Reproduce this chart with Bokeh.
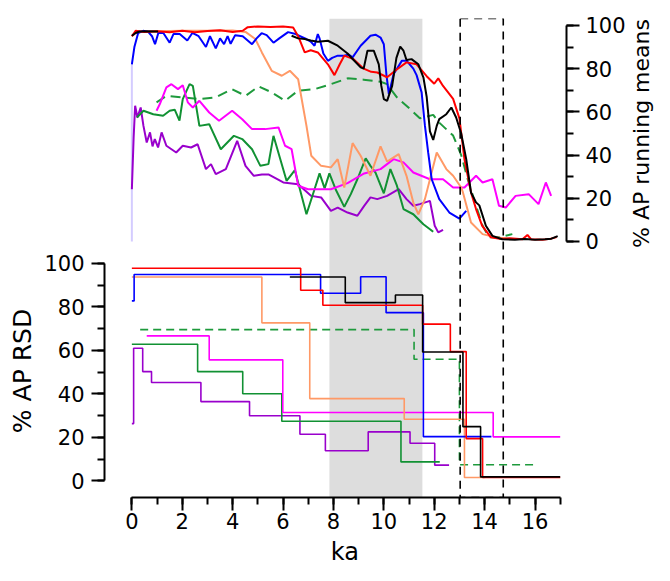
import math
from bokeh.plotting import figure
from bokeh.models import Range1d, LinearAxis, SingleIntervalTicker, BoxAnnotation
from bokeh.layouts import row, column
from bokeh.core.properties import value
from bokeh.embed import file_html
from bokeh.resources import INLINE

nan = float("nan")

# ---------------- top panel: % AP running means ----------------
blue_x = [0, 0.1, 0.25, 0.45, 0.65, 0.8, 0.92, 1.05, 1.25, 1.5, 1.65, 1.9, 2.2, 2.4, 2.65, 2.94, 3.1, 3.33, 3.5, 3.66, 3.8, 3.92, 4.1, 4.4, 4.77, 4.95, 5.15, 5.35, 5.62, 5.85, 6.2, 6.5, 6.92, 7.1, 7.25, 7.38, 7.45, 7.6, 7.78, 7.95, 8.17, 8.43, 8.6, 8.76, 9.08, 9.47, 9.67, 9.87, 10.0, 10.1, 10.2, 10.39, 10.72, 10.9, 11.17, 11.3, 11.5, 11.63, 11.76, 11.9, 12.2, 12.6, 13.0, 13.27]
blue_y = [82, 90, 96.5, 97.5, 97, 95, 91.3, 96.5, 96.5, 92, 96, 96, 93, 96.5, 95, 90, 95, 89.4, 94, 91.3, 95, 91.5, 95.5, 95, 91.3, 94, 96.4, 95.5, 92, 94, 96.9, 96, 93.7, 92.5, 90.6, 96, 94, 87, 83.6, 85, 86, 86, 86.5, 85.2, 90.6, 95.2, 95.7, 94.4, 91.3, 77.5, 68.2, 77.5, 83.7, 83.7, 80, 77, 69, 53.7, 41.2, 28.8, 19.6, 13.4, 10.6, 14.2]

red_x = [0, 0.15, 0.5, 1.0, 1.5, 2.0, 2.5, 3.0, 3.5, 4.0, 4.4, 4.6, 5.0, 5.5, 6.0, 6.4, 6.6, 6.86, 7.1, 7.38, 7.78, 8.04, 8.25, 8.43, 8.8, 9.2, 9.5, 9.74, 10.13, 10.5, 10.9, 11.3, 11.7, 12.0, 12.16, 12.35, 12.75, 13.0, 13.2, 13.46, 13.66, 13.9, 14.25, 14.6, 15.0, 15.5, 15.7, 15.85, 16.3, 16.6, 16.86]
red_y = [95, 97.5, 97, 97.3, 96.8, 97.5, 96.8, 97.4, 97.8, 97, 97.5, 99.2, 99.5, 99.3, 99.5, 99, 95, 87.5, 88.5, 87.5, 82, 77, 82, 86, 84.4, 80, 78.5, 78.2, 76, 79.5, 82.9, 82, 76.5, 73, 75.5, 72, 66, 57, 38, 22.7, 15, 7.3, 1.9, 1.2, 1.5, 1, 3, 1, 0.8, 1.2, 2]

black_x = [0, 0.15, 0.3, 0.6, 1.04, nan, 6.34, 6.6, 6.86, 7.1, 7.38, 7.78, 8.17, 8.56, 8.8, 9.08, 9.2, 9.35, 9.6, 9.8, 9.9, 10.0, 10.13, 10.33, 10.5, 10.65, 10.78, 10.9, 11.1, 11.37, 11.57, 11.7, 11.83, 11.96, 12.1, 12.2, 12.48, 12.68, 12.87, 13.07, 13.27, 13.46, 13.66, 13.79, 14.05, 14.31, 14.7, 15.2, 15.6, 16.0, 16.4, 16.65, 16.9]
black_y = [95.2, 96.5, 97.2, 97.3, 97.2, nan, 95.2, 94, 93.7, 93, 92.4, 92.9, 90.6, 87, 84, 80.6, 80, 88.3, 88.3, 82, 72, 65.9, 65.1, 72, 85, 90.2, 88.3, 84, 84.4, 82, 76, 67, 51, 47, 53.5, 56.6, 58.9, 62, 57.4, 50, 38.1, 22.7, 18.1, 16.7, 7.3, 2.6, 1, 0.8, 1.2, 0.8, 1, 1.3, 2.5]

salmon_x = [0, 0.2, 1, 2, 3, 4, 4.51, 4.9, 5.16, 5.55, 5.95, 6.27, 6.6, 6.93, 7.12, 7.51, 7.9, 8.17, 8.43, 8.76, 9.08, 9.47, 9.87, 10.13, 10.59, 10.9, 11.17, 11.37, 11.63, 12.1, 12.48, 12.75, 13.07, 13.14, 13.46, 13.92, 14.44, 15.0]
salmon_y = [95, 97, 97.3, 97.5, 97.5, 97.6, 97, 93.7, 87.5, 79, 76.7, 79, 75.1, 53.5, 39.7, 35, 34.3, 38.1, 25, 45.5, 39.7, 30.4, 44, 37, 40.4, 30.4, 18, 12.6, 19.6, 41.2, 33.5, 30.4, 25, 22.7, 8.8, 3.4, 1.9, 1.2]

gdash_x = [0.98, 1.37, 2.02, 2.68, 3.33, 3.98, 4.51, 5.03, 5.55, 6.08, 6.6, 7.25, 7.9, 8.56, 9.2, 9.87, 10.13, 10.52, 11.04, 11.43, 11.96, 12.2, 12.75, 13.07, 13.33, 13.66, 13.92, 14.18, 14.57, 15.1]
gdash_y = [64.4, 67.4, 66.7, 65.9, 66.7, 70.5, 67.4, 71.8, 69, 65.1, 69.8, 70.5, 72.8, 75.5, 74.9, 73.9, 72.8, 66.7, 61.3, 57, 58.6, 55, 49, 40, 28.8, 16.5, 7.3, 1.9, 2, 3.4]

magenta_x = [0.98, 1.11, 1.37, 1.57, 1.83, 2.02, 2.22, 2.42, 2.68, 3.07, 3.46, 3.98, 4.38, 4.77, 5.29, 5.82, 6.08, 6.34, 6.6, 6.99, 7.9, 8.56, 9.22, 9.87, 10.39, 10.78, 11.17, 11.83, 12.35, 12.75, 13.2, 13.66, 13.92, 14.31, 14.57, 14.84, 15.23, 15.75, 16.14, 16.43, 16.64]
magenta_y = [60.5, 63.6, 71.3, 72.8, 70.5, 72.3, 64.4, 62, 65.1, 59.7, 55.9, 60.5, 56.6, 52, 52, 52.8, 44.3, 42.7, 25.8, 24.2, 24.2, 27, 31.5, 33.5, 38.1, 36.6, 31.9, 28.8, 28.8, 25, 25, 30.4, 27.3, 28.8, 16.5, 15.7, 21.1, 21.9, 17.3, 27.3, 21.1]

green_x = [0.2, 0.46, 0.85, 1.24, 1.5, 1.7, 1.89, 2.02, 2.29, 2.42, 2.68, 3.07, 3.53, 4.05, 4.38, 4.77, 5.1, 5.42, 5.62, 6.14, 6.47, 6.93, 7.25, 7.45, 7.65, 7.84, 8.1, 8.43, 8.69, 8.95, 9.28, 9.47, 9.67, 10.0, 10.26, 10.52, 10.78, 11.17, 11.57, 11.96]
green_y = [57.4, 60.5, 58.9, 58.2, 60.5, 61, 55.9, 65.9, 72.8, 72, 53.5, 54.3, 42.7, 48.9, 47.4, 42.7, 35, 35.8, 48.9, 28.1, 33, 12.6, 24.2, 31.5, 24.6, 31.5, 23.8, 16, 21.9, 28.8, 38.5, 35, 31.9, 22.3, 33.5, 25.8, 15, 12.6, 8, 4.5]

purple_x = [0, 0.07, 0.13, 0.22, 0.35, 0.46, 0.59, 0.72, 0.82, 0.91, 1.04, 1.18, 1.37, 1.76, 2.02, 2.35, 2.61, 2.94, 3.14, 3.33, 3.73, 4.18, 4.51, 4.84, 5.16, 5.42, 6.01, 6.6, 7.12, 7.51, 7.9, 8.17, 8.56, 8.95, 9.22, 9.47, 9.74, 10.13, 10.59, 10.9, 11.17, 11.43, 11.83, 12.02, 12.16, 12.35]
purple_y = [24.2, 48, 62.8, 57.4, 62, 53.5, 45.8, 50.5, 44, 47.4, 43.5, 50.5, 44.3, 41.2, 44.3, 43.5, 45, 33.5, 35.8, 31.2, 33.5, 46.6, 35, 30.4, 31, 31, 27.3, 26.5, 21.1, 20.4, 14.2, 15.7, 13.4, 11.9, 16.5, 20.4, 19.6, 21.1, 24.2, 19.6, 16.5, 17.3, 18.8, 7.3, 4.2, 5.4]

lav_x = [0, 0]
lav_y = [0, 82]

# ---------------- bottom panel: % AP RSD (steps) ----------------
rsd_red_x = [0, 6.7, 7.58, 11.54, 12.64, 13.27, 13.92]
rsd_red_y = [97.7, 87.6, 80.7, 72, 59.4, 19.4, 1.5]
rsd_red_end = 17.0
rsd_blue_x = [0, 0.09, 7.49, 9.08, 10.09, 11.57]
rsd_blue_y = [82.7, 94.8, 86.2, 93.8, 77.3, 20.3]
rsd_blue_end = 14.27
rsd_black_x = [6.27, 8.47, 10.46, 11.54, 13.14, 13.84]
rsd_black_y = [93.7, 81.9, 85.4, 59.2, 24.9, 1.8]
rsd_black_end = 17.0
rsd_salmon_x = [0, 5.16, 7.06, 10.81, 13.2]
rsd_salmon_y = [93.7, 72.6, 37.8, 28.3, 1.5]
rsd_salmon_end = 14.0
rsd_gdash_x = [0.33, 11.2, 13.0]
rsd_gdash_y = [69.5, 55.9, 7.4]
rsd_gdash_end = 15.95
rsd_magenta_x = [0.59, 3.07, 5.99, 14.34]
rsd_magenta_y = [66.6, 55.6, 31.4, 20.2]
rsd_magenta_end = 17.0
rsd_green_x = [0, 2.61, 4.4, 5.95, 10.68]
rsd_green_y = [62.8, 50.2, 40, 27.4, 8.7]
rsd_green_end = 12.22
rsd_purple_x = [0, 0.07, 0.43, 0.78, 2.74, 4.67, 6.67, 7.68, 9.38, 11.04, 12.02]
rsd_purple_y = [26.3, 60.9, 50.2, 45.2, 36.4, 29.9, 21.4, 13.8, 22.5, 17.3, 7.2]
rsd_purple_end = 12.59

grey_band = (7.84, 11.53)
dash_box = (13.03, 14.74)

x_ticks_interval = 2
y_ticks_interval = 20

x_label = ["ka"]
left_label = ["% AP RSD"]
right_label = ["% AP running means"]

C_BLUE = "#0000ff"
C_RED = "#ff0000"
C_BLACK = "#000000"
C_SALMON = "#ff9966"
C_GDASH = "#1e9a3c"
C_GREEN = "#119133"
C_MAGENTA = "#ff00ff"
C_PURPLE = "#9900cc"

FONT = "DejaVu Sans"

# ---------------- main plot ----------------
p = figure(width=588, height=537,
           x_range=Range1d(-1.086, 17.25), y_range=Range1d(-7.67, 212.5),
           output_backend="svg", toolbar_location=None,
           min_border_left=64, min_border_right=60, min_border_top=18, min_border_bottom=40)
p.extra_y_ranges = {"top": Range1d(-118.5, 103.2)}
p.xgrid.visible = False
p.ygrid.visible = False
p.outline_line_color = None
p.background_fill_color = "white"

p.add_layout(BoxAnnotation(left=grey_band[0], right=grey_band[1], fill_color="#dddddd",
                           fill_alpha=1.0, line_color=None, level="underlay"))

p.line(lav_x, lav_y, y_range_name="top", line_color="#d4ccff", line_width=2)
p.line(gdash_x, gdash_y, y_range_name="top", line_color=C_GDASH, line_width=2, line_dash="10 6")
p.line(purple_x, purple_y, y_range_name="top", line_color=C_PURPLE, line_width=2)
p.line(green_x, green_y, y_range_name="top", line_color=C_GREEN, line_width=2)
p.line(magenta_x, magenta_y, y_range_name="top", line_color=C_MAGENTA, line_width=2)
p.line(salmon_x, salmon_y, y_range_name="top", line_color=C_SALMON, line_width=2)
p.line(blue_x, blue_y, y_range_name="top", line_color=C_BLUE, line_width=2)
p.line(red_x, red_y, y_range_name="top", line_color=C_RED, line_width=2)
p.line(black_x, black_y, y_range_name="top", line_color=C_BLACK, line_width=2)

def steps(xs, ys, end, color, dash="solid"):
    p.step(list(xs) + [end], list(ys) + [ys[-1]], mode="after",
           line_color=color, line_width=1.6, line_dash=dash)

steps(rsd_gdash_x, rsd_gdash_y, rsd_gdash_end, C_GDASH, "8 5")
steps(rsd_purple_x, rsd_purple_y, rsd_purple_end, C_PURPLE)
steps(rsd_green_x, rsd_green_y, rsd_green_end, C_GREEN)
steps(rsd_magenta_x, rsd_magenta_y, rsd_magenta_end, C_MAGENTA)
steps(rsd_salmon_x, rsd_salmon_y, rsd_salmon_end, C_SALMON)
steps(rsd_blue_x, rsd_blue_y, rsd_blue_end, C_BLUE)
steps(rsd_red_x, rsd_red_y, rsd_red_end, C_RED)
steps(rsd_black_x, rsd_black_y, rsd_black_end, C_BLACK)

p.add_layout(BoxAnnotation(left=dash_box[0], right=dash_box[1], fill_alpha=0,
                           line_color="black", line_alpha=1.0, line_width=1.6, line_dash="8 6"))

right_axis = LinearAxis(y_range_name="top")
p.add_layout(right_axis, "right")

def style(ax, bounds, interval):
    ax.bounds = bounds
    ax.ticker = SingleIntervalTicker(interval=interval, num_minor_ticks=2)
    ax.axis_line_width = 2
    ax.axis_line_color = "black"
    ax.major_tick_line_width = 2
    ax.minor_tick_line_width = 2
    ax.major_tick_line_color = "black"
    ax.minor_tick_line_color = "black"
    ax.major_tick_in = 0
    ax.major_tick_out = 13
    ax.minor_tick_in = 0
    ax.minor_tick_out = 7
    ax.major_label_text_font = FONT
    ax.major_label_text_font_size = "21px"
    ax.major_label_text_color = "black"

style(p.xaxis[0], (0, 17), x_ticks_interval)
p.xaxis[0].major_label_standoff = 2
style(p.yaxis[0], (0, 100), y_ticks_interval)
p.yaxis[0].major_label_standoff = 7
style(right_axis, (0, 100), y_ticks_interval)
right_axis.major_label_standoff = 6

# ---------------- axis-title strips ----------------
def strip(w, h):
    f = figure(width=w, height=h, x_range=Range1d(0, w), y_range=Range1d(0, h),
               output_backend="svg", toolbar_location=None, min_border=0,
               x_axis_type=None, y_axis_type=None)
    f.xgrid.visible = False
    f.ygrid.visible = False
    f.outline_line_color = None
    return f

left_strip = strip(40, 565)
left_strip.text(x=[22], y=[194.5], text=left_label, angle=math.pi / 2,
                text_align="center", text_baseline="middle",
                text_font=value(FONT), text_font_size=value("25px"), text_color="black")

right_strip = strip(26, 565)
right_strip.text(x=[13], y=[432], text=right_label, angle=math.pi / 2,
                 text_align="center", text_baseline="middle",
                 text_font=value(FONT), text_font_size=value("22px"), text_color="black")

bottom_strip = strip(588, 28)
bottom_strip.text(x=[306], y=[14], text=x_label, angle=0,
                  text_align="center", text_baseline="middle",
                  text_font=value(FONT), text_font_size=value("24px"), text_color="black")

layout = row(left_strip, column(p, bottom_strip), right_strip)

open("out.html", "w").write(file_html(layout, INLINE))
